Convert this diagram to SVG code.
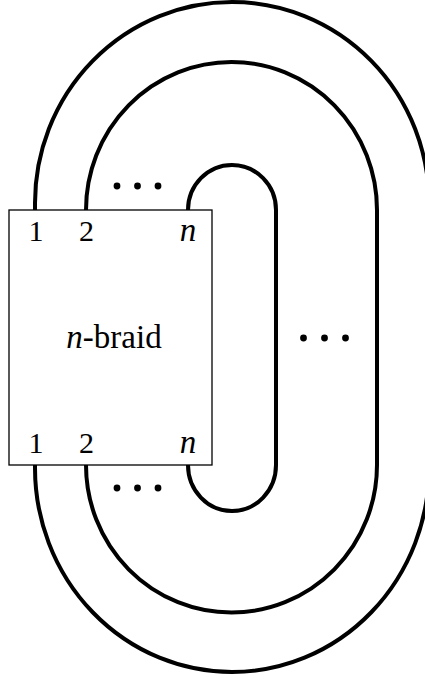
<svg xmlns="http://www.w3.org/2000/svg" width="425" height="680" viewBox="0 0 425 680">
<style>
.strand{fill:none;stroke:#000;stroke-width:4}
.box{fill:#fff;stroke:#000;stroke-width:1.3}
.lbl{font-family:"Liberation Serif",serif;font-size:30px;fill:#000;text-anchor:middle}
.it{font-style:italic}
.big{font-size:33px}
.dot{fill:#000}
</style>
<rect width="425" height="680" fill="#fff"/>
<g id="connectors">
<path class="strand" d="M35,210 L35,203 A197,201 0 0 1 429,203 L429,468 A197,204 0 0 1 35,468 L35,465"/>
<path class="strand" d="M86,210 A145.5,148 0 0 1 377,210 L377,465 A145.5,147.5 0 0 1 86,465"/>
<path class="strand" d="M188,210 A44,45 0 0 1 276,210 L276,465 A44,46 0 0 1 188,465"/>
</g>
<g id="dots-top">
<circle class="dot" cx="117" cy="186" r="3.4"/>
<circle class="dot" cx="137.5" cy="186" r="3.4"/>
<circle class="dot" cx="158" cy="186" r="3.4"/>
</g>
<g id="dots-bottom">
<circle class="dot" cx="117" cy="488" r="3.4"/>
<circle class="dot" cx="137.5" cy="488" r="3.4"/>
<circle class="dot" cx="158" cy="488" r="3.4"/>
</g>
<g id="dots-right">
<circle class="dot" cx="303.5" cy="338" r="3.4"/>
<circle class="dot" cx="324.5" cy="338" r="3.4"/>
<circle class="dot" cx="345.5" cy="338" r="3.4"/>
</g>
<g id="braid">
<rect class="box" x="9" y="210" width="203" height="255"/>
<text class="lbl" x="36" y="241">1</text>
<text class="lbl" x="86.5" y="241">2</text>
<text class="lbl it big" x="188" y="241">n</text>
<text class="lbl big" x="114" y="348"><tspan class="it">n</tspan>-braid</text>
<text class="lbl" x="36" y="453">1</text>
<text class="lbl" x="86.5" y="453">2</text>
<text class="lbl it big" x="188" y="453">n</text>
</g>
</svg>
